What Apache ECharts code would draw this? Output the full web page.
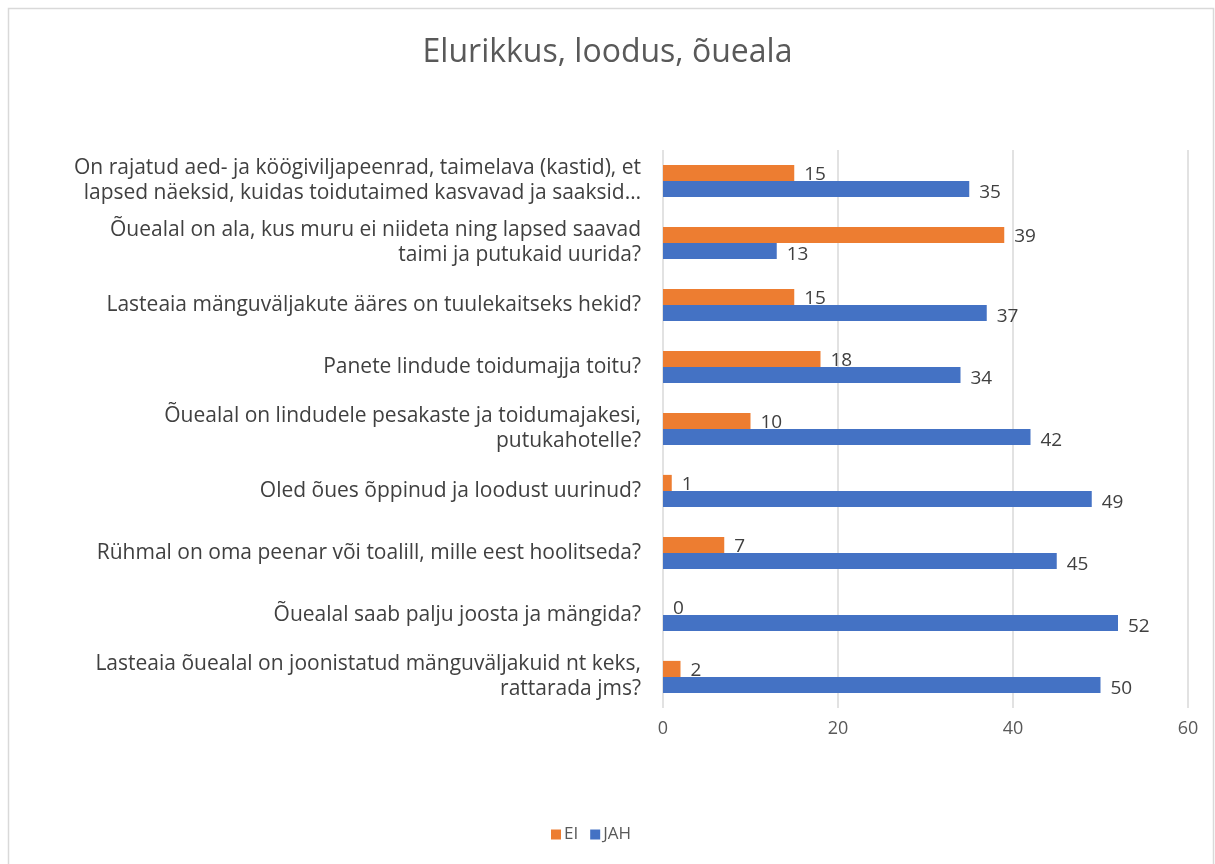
<!DOCTYPE html>
<html>
<head>
<meta charset="utf-8">
<script src="https://cdn.jsdelivr.net/npm/echarts@6/dist/echarts.min.js"></script>
<style>
    html, body { margin: 0; padding: 0; background: #fff; }
    #chart { width: 1215px; height: 864px; }
</style>
</head>
<body>
<div id="chart"></div>
<script>
// kysimused, ylevalt alla
var questions = [
    'On rajatud aed- ja köögiviljapeenrad, taimelava (kastid), et\nlapsed näeksid, kuidas toidutaimed kasvavad ja saaksid…',
    'Õuealal on ala, kus muru ei niideta ning lapsed saavad\ntaimi ja putukaid uurida?',
    'Lasteaia mänguväljakute ääres on tuulekaitseks hekid?',
    'Panete lindude toidumajja toitu?',
    'Õuealal on lindudele pesakaste ja toidumajakesi,\nputukahotelle?',
    'Oled õues õppinud ja loodust uurinud?',
    'Rühmal on oma peenar või toalill, mille eest hoolitseda?',
    'Õuealal saab palju joosta ja mängida?',
    'Lasteaia õuealal on joonistatud mänguväljakuid nt keks,\nrattarada jms?'
];
var ei = [15, 39, 15, 18, 10, 1, 7, 0, 2];
var jah = [35, 13, 37, 34, 42, 49, 45, 52, 50];
var xTicks = [0, 20, 40, 60];

var font = 'Open Sans';
var mychart = echarts.init(document.getElementById('chart'));
mychart.setOption({
    animation: false,
    textStyle: { fontFamily: font },
    title: {
        text: 'Elurikkus, loodus, õueala',
        left: 'center',
        top: 32,
        textStyle: { fontSize: 32, fontWeight: 'normal', color: '#595959', fontFamily: font }
    },
    graphic: [{
        type: 'rect',
        shape: { x: 8.5, y: 8.5, width: 1205, height: 880 },
        style: { fill: 'none', stroke: '#d9d9d9', lineWidth: 1.5 },
        silent: true
    }],
    legend: {
        bottom: 16,
        left: 546,
        itemWidth: 10,
        itemHeight: 10,
        itemGap: 12,
        icon: 'rect',
        textStyle: { fontSize: 17, color: '#595959', padding: [0, 0, 0, -2] },
        data: ['EI', 'JAH']
    },
    grid: { left: 663, right: 27, top: 150, bottom: 156 },
    xAxis: {
        type: 'value',
        min: xTicks[0],
        max: xTicks[xTicks.length - 1],
        interval: 20,
        axisLine: { show: false },
        axisTick: { show: false },
        splitLine: { lineStyle: { color: '#d9d9d9', width: 1.5 } },
        axisLabel: { fontSize: 18, color: '#595959', margin: 12 }
    },
    yAxis: {
        type: 'category',
        inverse: true,
        data: questions,
        axisLine: { show: false },
        axisTick: { show: false },
        axisLabel: {
            fontSize: 21,
            color: '#404040',
            margin: 22,
            lineHeight: 25,
            align: 'right'
        }
    },
    series: [{
        name: 'EI',
        type: 'bar',
        data: ei,
        barGap: '0%',
        barCategoryGap: '48%',
        itemStyle: { color: '#ed7d31' },
        label: { show: true, position: 'right', distance: 10, fontSize: 19, color: '#404040', offset: [0, 2] }
    }, {
        name: 'JAH',
        type: 'bar',
        data: jah,
        barGap: '0%',
        barCategoryGap: '48%',
        itemStyle: { color: '#4472c4' },
        label: { show: true, position: 'right', distance: 10, fontSize: 19, color: '#404040', offset: [0, 4] }
    }]
});
</script>
</body>
</html>
